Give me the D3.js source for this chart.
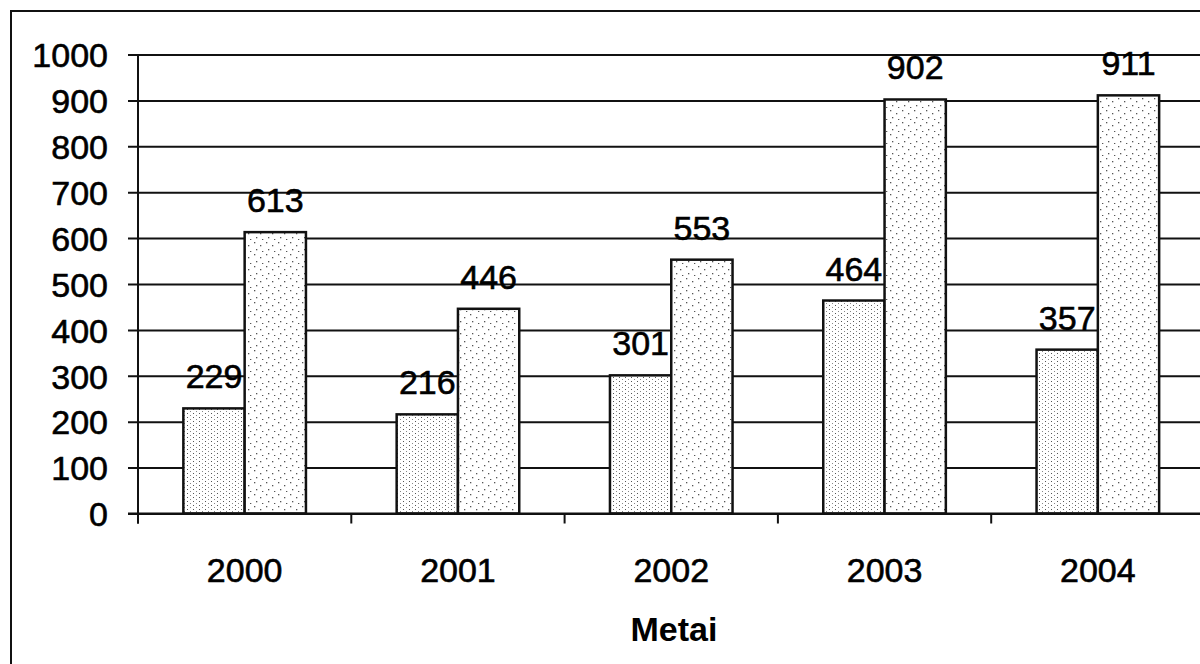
<!DOCTYPE html>
<html><head><meta charset="utf-8">
<script src="https://cdn.jsdelivr.net/npm/d3@7"></script>
<style>body{margin:0;background:#fff}svg{display:block}</style>
</head><body>
<svg id="c" width="1200" height="664"></svg>
<script>
const categories = ["2000","2001","2002","2003","2004"];
const seriesA = [229, 216, 301, 464, 357];
const seriesB = [613, 446, 553, 902, 911];
const yTicks = [0,100,200,300,400,500,600,700,800,900,1000];
const xTitle = "Metai";

(function(){
const svg = d3.select("#c");
const defs = svg.append("defs");
const pA = defs.append("pattern").attr("id","pA").attr("patternUnits","userSpaceOnUse").attr("width",6).attr("height",8);
pA.append("rect").attr("width",6).attr("height",8).attr("fill","#fff");
[[1,1],[4,3],[1,5],[4,7]].forEach(([px,py],i)=>pA.append("rect").attr("x",px).attr("y",py).attr("width",1).attr("height",1).attr("fill", i%2? "#888":"#555"));
const pB = defs.append("pattern").attr("id","pB").attr("patternUnits","userSpaceOnUse").attr("width",12).attr("height",12);
pB.append("rect").attr("width",12).attr("height",12).attr("fill","#fff");
[[2,2],[8,5],[4,9],[10,11]].forEach(([px,py])=>pB.append("rect").attr("x",px).attr("y",py).attr("width",1.3).attr("height",1.3).attr("fill","#555"));

const L = 138, R = 138 + 5*213.3, T = 54.5, B = 513.5;
const x = d3.scaleBand().domain(categories).range([L, R]).paddingInner(0).paddingOuter(0);
const y = d3.scaleLinear().domain([0,1000]).range([B, T]);
const inner = d3.scaleBand().domain(["A","B"]).range([0, x.bandwidth()]).paddingInner(0).paddingOuter(0.74);
const font = "Liberation Sans, Arial, sans-serif";
const fs = 34;
const heavy = s => s.attr("stroke","#000").attr("stroke-width",0.6);

svg.append("rect").attr("x",11).attr("y",11).attr("width",1200).attr("height",700).attr("fill","none").attr("stroke","#111").attr("stroke-width",2);

const yAxis = d3.axisLeft(y).tickValues(yTicks).tickFormat(d3.format("d")).tickSize(-(1200-L)).tickSizeOuter(0).tickPadding(30);
const gy = svg.append("g").attr("transform",`translate(${L},0)`).call(yAxis);
gy.select(".domain").remove();
gy.selectAll(".tick line").attr("x1",-10).attr("stroke","#111").attr("stroke-width",2);
gy.selectAll(".tick text").attr("font-family",font).attr("font-size",fs).attr("fill","#000").attr("dy","0.36em").call(heavy);

svg.append("line").attr("x1",L).attr("x2",L).attr("y1",T).attr("y2",B+10).attr("stroke","#111").attr("stroke-width",2);

const data = categories.map((c,i)=>({c, a:seriesA[i], b:seriesB[i]}));
const g = svg.append("g");
data.forEach(d=>{
  [["A",d.a,"url(#pA)"],["B",d.b,"url(#pB)"]].forEach(([k,v,f])=>{
    g.append("rect").attr("x", x(d.c)+inner(k)).attr("y", y(v)).attr("width", inner.bandwidth()).attr("height", y(0)-y(v))
      .attr("fill", f).attr("stroke","#111").attr("stroke-width",2.5);
  });
});
data.forEach(d=>{
  [["A",d.a],["B",d.b]].forEach(([k,v])=>{
    g.append("text").attr("x", x(d.c)+inner(k)+inner.bandwidth()/2).attr("y", y(v)-20)
      .attr("text-anchor","middle").attr("font-family",font).attr("font-size",fs).attr("fill","#000").text(v).call(heavy);
  });
});

const xAxis = d3.axisBottom(x).tickSize(0).tickPadding(44).tickSizeOuter(0);
const gx = svg.append("g").attr("transform",`translate(0,${B})`).call(xAxis);
gx.select(".domain").attr("stroke","#111").attr("stroke-width",2);
gx.selectAll(".tick text").attr("font-family",font).attr("font-size",fs).attr("fill","#000").call(heavy);
const bounds = categories.map(c=>x(c)).concat([R]);
svg.append("g").selectAll("line").data(bounds).join("line")
  .attr("x1",d=>d).attr("x2",d=>d).attr("y1",B).attr("y2",B+10).attr("stroke","#111").attr("stroke-width",2);
svg.append("line").attr("x1",L-10).attr("x2",1200).attr("y1",B).attr("y2",B).attr("stroke","#111").attr("stroke-width",2);

svg.append("text").attr("x", 674).attr("y", 641).attr("text-anchor","middle")
  .attr("font-family",font).attr("font-size",34).attr("font-weight","bold").text(xTitle);
})();
</script>
</body></html>
